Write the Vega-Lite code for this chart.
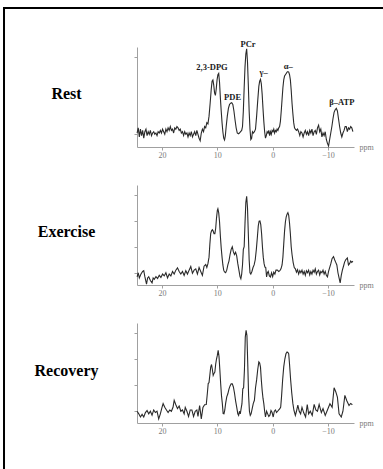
{
"$schema": "https://vega.github.io/schema/vega-lite/v6.json",
"padding": {"left": 3, "top": 7, "right": 0, "bottom": 0},
"background": "white",
"config": {
  "view": {"stroke": null},
  "font": "Liberation Serif",
  "axis": {"grid": false, "domainColor": "#a0a0a0", "tickColor": "#a0a0a0", "domainWidth": 1, "tickWidth": 1, "tickSize": 3, "labelColor": "#7a7a7a", "labelFont": "Liberation Serif", "labelFontSize": 8, "titleFont": "Liberation Serif"}
},
"datasets": {
  "rest": [
{"ppm":24.5,"v":0.05},{"ppm":24.3,"v":0.25},{"ppm":24.1,"v":-0.1},{"ppm":23.9,"v":0.2},{"ppm":23.7,"v":-0.05},{"ppm":23.5,"v":0.15},{"ppm":23.3,"v":-0.15},{"ppm":23.1,"v":0.1},{"ppm":22.9,"v":0.2},{"ppm":22.7,"v":-0.05},{"ppm":22.5,"v":0.1},{"ppm":22.3,"v":0.0},{"ppm":22.1,"v":0.15},{"ppm":21.9,"v":-0.05},{"ppm":21.7,"v":0.05},{"ppm":21.5,"v":0.1},{"ppm":21.3,"v":0.0},{"ppm":21.1,"v":0.05},{"ppm":20.9,"v":-0.05},{"ppm":20.7,"v":0.1},{"ppm":20.5,"v":0.05},{"ppm":20.3,"v":0.15},{"ppm":20.1,"v":0.05},{"ppm":19.9,"v":0.2},{"ppm":19.7,"v":0.1},{"ppm":19.5,"v":0.0},{"ppm":19.3,"v":0.2},{"ppm":19.1,"v":0.1},{"ppm":18.9,"v":0.25},{"ppm":18.7,"v":0.15},{"ppm":18.5,"v":0.3},{"ppm":18.3,"v":0.15},{"ppm":18.1,"v":0.2},{"ppm":17.9,"v":0.05},{"ppm":17.7,"v":0.25},{"ppm":17.5,"v":0.2},{"ppm":17.3,"v":0.3},{"ppm":17.1,"v":0.25},{"ppm":16.9,"v":0.15},{"ppm":16.7,"v":0.2},{"ppm":16.5,"v":0.05},{"ppm":16.3,"v":0.1},{"ppm":16.1,"v":-0.05},{"ppm":15.9,"v":0.1},{"ppm":15.7,"v":0.0},{"ppm":15.5,"v":0.05},{"ppm":15.3,"v":-0.1},{"ppm":15.1,"v":0.05},{"ppm":14.9,"v":-0.05},{"ppm":14.7,"v":0.1},{"ppm":14.5,"v":-0.1},{"ppm":14.3,"v":0.0},{"ppm":14.1,"v":0.1},{"ppm":13.9,"v":-0.05},{"ppm":13.7,"v":0.15},{"ppm":13.5,"v":0.0},{"ppm":13.3,"v":-0.15},{"ppm":13.1,"v":-0.25},{"ppm":12.9,"v":0.05},{"ppm":12.7,"v":0.2},{"ppm":12.5,"v":0.1},{"ppm":12.3,"v":0.3},{"ppm":12.1,"v":0.25},{"ppm":11.9,"v":0.45},{"ppm":11.7,"v":0.4},{"ppm":11.5,"v":0.7},{"ppm":11.3,"v":1.2},{"ppm":11.1,"v":1.75},{"ppm":10.95,"v":2.05},{"ppm":10.8,"v":2.1},{"ppm":10.65,"v":1.9},{"ppm":10.5,"v":1.6},{"ppm":10.35,"v":1.5},{"ppm":10.2,"v":1.75},{"ppm":10.05,"v":2.1},{"ppm":9.9,"v":2.3},{"ppm":9.75,"v":2.35},{"ppm":9.6,"v":2.0},{"ppm":9.45,"v":1.4},{"ppm":9.3,"v":0.9},{"ppm":9.15,"v":0.45},{"ppm":9.0,"v":0.1},{"ppm":8.85,"v":-0.15},{"ppm":8.7,"v":-0.22},{"ppm":8.55,"v":-0.05},{"ppm":8.4,"v":0.3},{"ppm":8.2,"v":0.7},{"ppm":8.0,"v":1.0},{"ppm":7.8,"v":1.15},{"ppm":7.6,"v":1.2},{"ppm":7.4,"v":1.22},{"ppm":7.2,"v":1.15},{"ppm":7.0,"v":0.9},{"ppm":6.8,"v":0.55},{"ppm":6.6,"v":0.25},{"ppm":6.4,"v":0.05},{"ppm":6.2,"v":0.02},{"ppm":6.0,"v":0.05},{"ppm":5.8,"v":0.1},{"ppm":5.6,"v":0.15},{"ppm":5.45,"v":0.3},{"ppm":5.3,"v":0.9},{"ppm":5.15,"v":1.8},{"ppm":5.0,"v":2.6},{"ppm":4.85,"v":3.1},{"ppm":4.7,"v":3.3},{"ppm":4.55,"v":2.8},{"ppm":4.4,"v":1.9},{"ppm":4.25,"v":0.9},{"ppm":4.1,"v":0.2},{"ppm":3.95,"v":-0.2},{"ppm":3.8,"v":-0.15},{"ppm":3.65,"v":0.1},{"ppm":3.5,"v":0.05},{"ppm":3.3,"v":0.1},{"ppm":3.1,"v":0.2},{"ppm":2.9,"v":0.7},{"ppm":2.7,"v":1.3},{"ppm":2.5,"v":1.85},{"ppm":2.35,"v":2.05},{"ppm":2.2,"v":2.12},{"ppm":2.05,"v":1.95},{"ppm":1.9,"v":1.55},{"ppm":1.75,"v":1.0},{"ppm":1.6,"v":0.5},{"ppm":1.45,"v":0.1},{"ppm":1.3,"v":-0.15},{"ppm":1.15,"v":-0.05},{"ppm":1.0,"v":0.1},{"ppm":0.85,"v":0.05},{"ppm":0.7,"v":0.15},{"ppm":0.55,"v":-0.05},{"ppm":0.4,"v":0.1},{"ppm":0.25,"v":0.0},{"ppm":0.1,"v":0.15},{"ppm":-0.05,"v":0.1},{"ppm":-0.2,"v":0.2},{"ppm":-0.35,"v":0.05},{"ppm":-0.5,"v":0.15},{"ppm":-0.65,"v":0.1},{"ppm":-0.8,"v":0.2},{"ppm":-0.95,"v":0.15},{"ppm":-1.1,"v":0.25},{"ppm":-1.25,"v":0.3},{"ppm":-1.4,"v":0.5},{"ppm":-1.55,"v":0.9},{"ppm":-1.7,"v":1.35},{"ppm":-1.85,"v":1.8},{"ppm":-2.0,"v":2.1},{"ppm":-2.15,"v":2.25},{"ppm":-2.3,"v":2.3},{"ppm":-2.45,"v":2.35},{"ppm":-2.6,"v":2.4},{"ppm":-2.75,"v":2.42},{"ppm":-2.9,"v":2.4},{"ppm":-3.05,"v":2.3},{"ppm":-3.2,"v":2.1},{"ppm":-3.35,"v":1.7},{"ppm":-3.5,"v":1.2},{"ppm":-3.65,"v":0.8},{"ppm":-3.8,"v":0.45},{"ppm":-3.95,"v":0.25},{"ppm":-4.1,"v":0.2},{"ppm":-4.3,"v":0.15},{"ppm":-4.5,"v":0.2},{"ppm":-4.7,"v":0.1},{"ppm":-4.9,"v":-0.05},{"ppm":-5.1,"v":0.1},{"ppm":-5.3,"v":0.05},{"ppm":-5.5,"v":-0.1},{"ppm":-5.7,"v":0.05},{"ppm":-5.9,"v":0.15},{"ppm":-6.1,"v":0.0},{"ppm":-6.3,"v":0.1},{"ppm":-6.5,"v":-0.05},{"ppm":-6.7,"v":0.15},{"ppm":-6.9,"v":0.05},{"ppm":-7.1,"v":0.2},{"ppm":-7.3,"v":-0.05},{"ppm":-7.5,"v":0.1},{"ppm":-7.7,"v":0.15},{"ppm":-7.9,"v":0.0},{"ppm":-8.1,"v":0.25},{"ppm":-8.3,"v":0.35},{"ppm":-8.5,"v":0.1},{"ppm":-8.7,"v":0.2},{"ppm":-8.9,"v":-0.1},{"ppm":-9.1,"v":0.05},{"ppm":-9.3,"v":-0.05},{"ppm":-9.5,"v":0.1},{"ppm":-9.7,"v":-0.2},{"ppm":-9.9,"v":-0.35},{"ppm":-10.1,"v":-0.45},{"ppm":-10.3,"v":-0.2},{"ppm":-10.5,"v":0.05},{"ppm":-10.7,"v":0.3},{"ppm":-10.9,"v":0.6},{"ppm":-11.1,"v":0.85},{"ppm":-11.3,"v":0.95},{"ppm":-11.5,"v":1.0},{"ppm":-11.7,"v":0.9},{"ppm":-11.9,"v":0.6},{"ppm":-12.1,"v":0.3},{"ppm":-12.3,"v":0.05},{"ppm":-12.5,"v":-0.1},{"ppm":-12.7,"v":0.05},{"ppm":-12.9,"v":0.15},{"ppm":-13.1,"v":0.3},{"ppm":-13.3,"v":0.3},{"ppm":-13.5,"v":0.1},{"ppm":-13.7,"v":0.25},{"ppm":-13.9,"v":0.2},{"ppm":-14.1,"v":0.3},{"ppm":-14.3,"v":0.25},{"ppm":-14.5,"v":0.1}
  ],
  "exercise": [
{"ppm":24.5,"v":-0.16},{"ppm":24.3,"v":0.0},{"ppm":24.1,"v":-0.2},{"ppm":23.8,"v":-0.05},{"ppm":23.5,"v":0.05},{"ppm":23.3,"v":0.08},{"ppm":23.1,"v":-0.15},{"ppm":22.8,"v":-0.44},{"ppm":22.6,"v":-0.2},{"ppm":22.4,"v":-0.15},{"ppm":22.1,"v":-0.3},{"ppm":21.8,"v":-0.39},{"ppm":21.6,"v":-0.2},{"ppm":21.4,"v":-0.25},{"ppm":21.1,"v":-0.15},{"ppm":20.8,"v":-0.22},{"ppm":20.5,"v":-0.1},{"ppm":20.2,"v":-0.18},{"ppm":19.9,"v":-0.05},{"ppm":19.6,"v":-0.12},{"ppm":19.3,"v":0.0},{"ppm":19.0,"v":-0.2},{"ppm":18.7,"v":-0.05},{"ppm":18.4,"v":-0.12},{"ppm":18.1,"v":0.05},{"ppm":17.8,"v":-0.05},{"ppm":17.5,"v":0.1},{"ppm":17.2,"v":0.19},{"ppm":16.9,"v":0.05},{"ppm":16.6,"v":-0.05},{"ppm":16.3,"v":0.05},{"ppm":16.0,"v":-0.1},{"ppm":15.7,"v":0.08},{"ppm":15.4,"v":-0.05},{"ppm":15.1,"v":0.1},{"ppm":14.8,"v":0.24},{"ppm":14.5,"v":-0.02},{"ppm":14.2,"v":0.1},{"ppm":13.9,"v":0.15},{"ppm":13.6,"v":-0.05},{"ppm":13.3,"v":0.2},{"ppm":13.0,"v":0.05},{"ppm":12.7,"v":-0.1},{"ppm":12.4,"v":0.25},{"ppm":12.1,"v":0.32},{"ppm":11.9,"v":0.2},{"ppm":11.7,"v":0.35},{"ppm":11.5,"v":0.6},{"ppm":11.35,"v":1.1},{"ppm":11.2,"v":1.5},{"ppm":11.05,"v":1.61},{"ppm":10.9,"v":1.65},{"ppm":10.75,"v":1.6},{"ppm":10.6,"v":1.5},{"ppm":10.45,"v":1.5},{"ppm":10.3,"v":1.7},{"ppm":10.15,"v":2.1},{"ppm":10.0,"v":2.4},{"ppm":9.9,"v":2.46},{"ppm":9.75,"v":2.3},{"ppm":9.6,"v":1.95},{"ppm":9.45,"v":1.4},{"ppm":9.3,"v":0.95},{"ppm":9.15,"v":0.6},{"ppm":9.0,"v":0.3},{"ppm":8.85,"v":0.1},{"ppm":8.7,"v":0.03},{"ppm":8.5,"v":0.0},{"ppm":8.3,"v":0.1},{"ppm":8.1,"v":0.3},{"ppm":7.9,"v":0.45},{"ppm":7.7,"v":0.7},{"ppm":7.5,"v":0.9},{"ppm":7.3,"v":1.0},{"ppm":7.1,"v":0.8},{"ppm":6.9,"v":0.7},{"ppm":6.7,"v":0.79},{"ppm":6.5,"v":0.65},{"ppm":6.3,"v":0.35},{"ppm":6.1,"v":0.1},{"ppm":5.9,"v":-0.15},{"ppm":5.75,"v":-0.23},{"ppm":5.6,"v":-0.05},{"ppm":5.45,"v":0.3},{"ppm":5.3,"v":0.9},{"ppm":5.15,"v":1.0},{"ppm":5.0,"v":1.9},{"ppm":4.85,"v":2.7},{"ppm":4.7,"v":2.94},{"ppm":4.55,"v":2.5},{"ppm":4.4,"v":1.5},{"ppm":4.25,"v":0.5},{"ppm":4.1,"v":0.0},{"ppm":3.95,"v":-0.05},{"ppm":3.75,"v":0.05},{"ppm":3.55,"v":0.2},{"ppm":3.35,"v":0.3},{"ppm":3.15,"v":0.5},{"ppm":2.95,"v":0.9},{"ppm":2.75,"v":1.4},{"ppm":2.6,"v":1.8},{"ppm":2.45,"v":1.98},{"ppm":2.3,"v":1.99},{"ppm":2.15,"v":1.85},{"ppm":2.0,"v":1.5},{"ppm":1.85,"v":1.0},{"ppm":1.7,"v":0.6},{"ppm":1.55,"v":0.35},{"ppm":1.4,"v":0.22},{"ppm":1.25,"v":0.2},{"ppm":1.1,"v":-0.16},{"ppm":0.95,"v":0.0},{"ppm":0.8,"v":0.05},{"ppm":0.6,"v":-0.12},{"ppm":0.4,"v":-0.16},{"ppm":0.2,"v":0.0},{"ppm":0.0,"v":-0.15},{"ppm":-0.2,"v":0.02},{"ppm":-0.4,"v":-0.05},{"ppm":-0.6,"v":0.1},{"ppm":-0.85,"v":0.1},{"ppm":-1.1,"v":0.05},{"ppm":-1.3,"v":0.08},{"ppm":-1.5,"v":0.15},{"ppm":-1.7,"v":0.3},{"ppm":-1.85,"v":0.6},{"ppm":-2.0,"v":1.1},{"ppm":-2.15,"v":1.6},{"ppm":-2.3,"v":1.95},{"ppm":-2.45,"v":2.15},{"ppm":-2.6,"v":2.25},{"ppm":-2.75,"v":2.31},{"ppm":-2.9,"v":2.2},{"ppm":-3.05,"v":1.9},{"ppm":-3.2,"v":1.5},{"ppm":-3.35,"v":1.0},{"ppm":-3.5,"v":0.7},{"ppm":-3.7,"v":0.4},{"ppm":-3.9,"v":0.2},{"ppm":-4.1,"v":0.15},{"ppm":-4.3,"v":0.02},{"ppm":-4.5,"v":0.12},{"ppm":-4.7,"v":-0.05},{"ppm":-4.9,"v":0.08},{"ppm":-5.1,"v":0.0},{"ppm":-5.3,"v":0.1},{"ppm":-5.5,"v":-0.05},{"ppm":-5.7,"v":0.05},{"ppm":-5.9,"v":-0.1},{"ppm":-6.1,"v":0.08},{"ppm":-6.3,"v":0.0},{"ppm":-6.5,"v":0.1},{"ppm":-6.7,"v":-0.08},{"ppm":-6.9,"v":0.05},{"ppm":-7.1,"v":-0.05},{"ppm":-7.3,"v":0.1},{"ppm":-7.5,"v":0.02},{"ppm":-7.7,"v":0.15},{"ppm":-7.9,"v":-0.05},{"ppm":-8.1,"v":0.05},{"ppm":-8.3,"v":0.1},{"ppm":-8.5,"v":-0.08},{"ppm":-8.7,"v":0.05},{"ppm":-8.9,"v":0.0},{"ppm":-9.1,"v":0.1},{"ppm":-9.3,"v":-0.05},{"ppm":-9.5,"v":0.05},{"ppm":-9.7,"v":-0.1},{"ppm":-9.9,"v":-0.16},{"ppm":-10.1,"v":0.05},{"ppm":-10.3,"v":0.2},{"ppm":-10.5,"v":0.34},{"ppm":-10.75,"v":0.55},{"ppm":-11.0,"v":0.62},{"ppm":-11.2,"v":0.5},{"ppm":-11.4,"v":0.4},{"ppm":-11.6,"v":0.3},{"ppm":-11.8,"v":0.0},{"ppm":-12.0,"v":-0.2},{"ppm":-12.2,"v":-0.39},{"ppm":-12.4,"v":-0.1},{"ppm":-12.6,"v":0.1},{"ppm":-12.8,"v":0.25},{"ppm":-13.0,"v":0.41},{"ppm":-13.2,"v":0.5},{"ppm":-13.5,"v":0.57},{"ppm":-13.7,"v":0.3},{"ppm":-13.9,"v":0.35},{"ppm":-14.1,"v":0.45},{"ppm":-14.3,"v":0.4},{"ppm":-14.5,"v":0.45}
  ],
  "recovery": [
{"ppm":24.5,"v":0.0},{"ppm":24.2,"v":-0.1},{"ppm":23.9,"v":-0.22},{"ppm":23.6,"v":-0.12},{"ppm":23.3,"v":-0.22},{"ppm":23.0,"v":-0.05},{"ppm":22.7,"v":0.03},{"ppm":22.4,"v":-0.1},{"ppm":22.1,"v":0.0},{"ppm":21.8,"v":-0.15},{"ppm":21.5,"v":0.05},{"ppm":21.2,"v":-0.05},{"ppm":20.9,"v":0.0},{"ppm":20.6,"v":-0.29},{"ppm":20.3,"v":-0.1},{"ppm":20.0,"v":0.15},{"ppm":19.8,"v":0.29},{"ppm":19.5,"v":0.15},{"ppm":19.2,"v":0.05},{"ppm":18.9,"v":-0.05},{"ppm":18.6,"v":0.05},{"ppm":18.3,"v":0.0},{"ppm":18.0,"v":0.16},{"ppm":17.8,"v":0.42},{"ppm":17.5,"v":0.25},{"ppm":17.2,"v":0.1},{"ppm":16.9,"v":0.2},{"ppm":16.6,"v":0.0},{"ppm":16.3,"v":0.05},{"ppm":16.0,"v":-0.1},{"ppm":15.8,"v":0.15},{"ppm":15.5,"v":0.0},{"ppm":15.2,"v":-0.2},{"ppm":14.9,"v":0.05},{"ppm":14.6,"v":0.05},{"ppm":14.3,"v":-0.2},{"ppm":14.0,"v":0.0},{"ppm":13.7,"v":0.05},{"ppm":13.5,"v":-0.2},{"ppm":13.2,"v":0.22},{"ppm":12.9,"v":-0.29},{"ppm":12.6,"v":0.15},{"ppm":12.3,"v":0.25},{"ppm":12.0,"v":0.26},{"ppm":11.8,"v":0.7},{"ppm":11.65,"v":1.06},{"ppm":11.5,"v":1.1},{"ppm":11.35,"v":1.4},{"ppm":11.2,"v":1.69},{"ppm":11.05,"v":1.79},{"ppm":10.9,"v":1.6},{"ppm":10.75,"v":1.37},{"ppm":10.6,"v":1.45},{"ppm":10.45,"v":1.5},{"ppm":10.3,"v":1.8},{"ppm":10.15,"v":2.0},{"ppm":10.0,"v":2.14},{"ppm":9.85,"v":2.33},{"ppm":9.7,"v":2.1},{"ppm":9.55,"v":1.6},{"ppm":9.4,"v":1.06},{"ppm":9.25,"v":0.6},{"ppm":9.1,"v":0.3},{"ppm":8.95,"v":-0.09},{"ppm":8.8,"v":-0.1},{"ppm":8.65,"v":0.05},{"ppm":8.5,"v":0.3},{"ppm":8.3,"v":0.55},{"ppm":8.1,"v":0.67},{"ppm":7.9,"v":0.85},{"ppm":7.7,"v":0.97},{"ppm":7.5,"v":1.05},{"ppm":7.3,"v":1.05},{"ppm":7.1,"v":0.93},{"ppm":6.9,"v":0.7},{"ppm":6.7,"v":0.4},{"ppm":6.5,"v":0.16},{"ppm":6.3,"v":-0.1},{"ppm":6.15,"v":-0.16},{"ppm":6.0,"v":0.0},{"ppm":5.85,"v":-0.1},{"ppm":5.7,"v":0.1},{"ppm":5.55,"v":0.29},{"ppm":5.4,"v":0.86},{"ppm":5.25,"v":0.9},{"ppm":5.1,"v":1.6},{"ppm":4.95,"v":2.84},{"ppm":4.8,"v":3.1},{"ppm":4.65,"v":2.9},{"ppm":4.5,"v":1.8},{"ppm":4.35,"v":0.6},{"ppm":4.2,"v":0.0},{"ppm":4.05,"v":-0.16},{"ppm":3.9,"v":-0.1},{"ppm":3.7,"v":0.1},{"ppm":3.5,"v":0.3},{"ppm":3.3,"v":0.42},{"ppm":3.1,"v":0.9},{"ppm":2.9,"v":1.2},{"ppm":2.7,"v":1.6},{"ppm":2.5,"v":1.89},{"ppm":2.35,"v":1.85},{"ppm":2.2,"v":1.69},{"ppm":2.05,"v":1.2},{"ppm":1.9,"v":0.8},{"ppm":1.75,"v":0.5},{"ppm":1.6,"v":0.29},{"ppm":1.45,"v":0.0},{"ppm":1.3,"v":-0.22},{"ppm":1.1,"v":0.0},{"ppm":0.9,"v":-0.1},{"ppm":0.7,"v":-0.2},{"ppm":0.5,"v":-0.15},{"ppm":0.3,"v":0.03},{"ppm":0.1,"v":-0.05},{"ppm":-0.1,"v":-0.22},{"ppm":-0.3,"v":0.0},{"ppm":-0.5,"v":0.05},{"ppm":-0.7,"v":-0.05},{"ppm":-0.9,"v":0.0},{"ppm":-1.1,"v":0.05},{"ppm":-1.3,"v":0.1},{"ppm":-1.45,"v":0.16},{"ppm":-1.6,"v":0.55},{"ppm":-1.8,"v":1.2},{"ppm":-2.0,"v":1.7},{"ppm":-2.2,"v":2.0},{"ppm":-2.4,"v":2.2},{"ppm":-2.6,"v":2.27},{"ppm":-2.75,"v":2.25},{"ppm":-2.9,"v":2.2},{"ppm":-3.05,"v":1.8},{"ppm":-3.25,"v":1.2},{"ppm":-3.45,"v":0.7},{"ppm":-3.65,"v":0.3},{"ppm":-3.85,"v":0.03},{"ppm":-4.1,"v":-0.16},{"ppm":-4.3,"v":0.0},{"ppm":-4.55,"v":0.23},{"ppm":-4.8,"v":0.0},{"ppm":-5.05,"v":-0.1},{"ppm":-5.3,"v":0.15},{"ppm":-5.6,"v":-0.05},{"ppm":-5.95,"v":-0.22},{"ppm":-6.25,"v":0.26},{"ppm":-6.5,"v":-0.1},{"ppm":-6.8,"v":0.0},{"ppm":-7.15,"v":-0.16},{"ppm":-7.5,"v":0.26},{"ppm":-7.8,"v":0.05},{"ppm":-8.1,"v":0.0},{"ppm":-8.4,"v":0.26},{"ppm":-8.8,"v":-0.05},{"ppm":-9.1,"v":0.1},{"ppm":-9.5,"v":-0.16},{"ppm":-9.9,"v":0.05},{"ppm":-10.35,"v":0.29},{"ppm":-10.75,"v":0.15},{"ppm":-11.1,"v":0.9},{"ppm":-11.4,"v":0.75},{"ppm":-11.7,"v":0.54},{"ppm":-12.0,"v":-0.1},{"ppm":-12.4,"v":-0.22},{"ppm":-12.7,"v":0.0},{"ppm":-13.05,"v":0.61},{"ppm":-13.4,"v":0.4},{"ppm":-13.8,"v":0.22},{"ppm":-14.1,"v":0.3},{"ppm":-14.4,"v":0.25}
  ],
  "peaks": [
{"ppm":10.96,"v":2.58,"t":"2,3-DPG"},{"ppm":7.25,"v":1.43,"t":"PDE"},{"ppm":4.45,"v":3.49,"t":"PCr"},{"ppm":1.65,"v":2.4,"t":"γ–"},{"ppm":-2.8,"v":2.64,"t":"α–"},{"ppm":-12.5,"v":1.26,"t":"β–ATP"}
  ]
},
"spacing": 0,
"bounds": "flush",
"vconcat": [
  {"width": 378, "height": 0.01, "data": {"values": []}, "mark": "rule", "encoding": {}, "view": {"stroke": "black", "strokeWidth": 2}},
  {
    "spacing": 132,
    "bounds": "flush",
    "hconcat": [
      {"width": 0.01, "height": 459.99, "data": {"values": []}, "mark": "rule", "encoding": {}, "view": {"stroke": "black", "strokeWidth": 2}},
      {
        "spacing": 37,
        "bounds": "flush",
        "vconcat": [
          {"width": 0.01, "height": 0.01, "data": {"values": []}, "mark": "rule", "encoding": {}},
          {
            "spacing": 38,
            "bounds": "flush",
            "vconcat": [
              {
                "width": 217, "height": 100,
                "layer": [
                  {
                    "data": {"name": "rest"},
                    "mark": {"type": "line", "color": "#2a2a2a", "strokeWidth": 1.1},
                    "encoding": {
                      "x": {"field": "ppm", "type": "quantitative", "scale": {"domain": [-14.7, 24.52], "reverse": true, "nice": false, "zero": false},
                            "axis": {"values": [20, 10, 0, -10], "labelPadding": 1, "title": "ppm", "titleFontSize": 8, "titleFontWeight": "normal", "titleColor": "#7a7a7a", "titleX": 222, "titleY": 0, "titleAlign": "left", "titleBaseline": "middle", "titleAnchor": null}},
                      "y": {"field": "v", "type": "quantitative", "scale": {"domain": [-0.49, 3.37], "nice": false, "zero": false},
                            "axis": {"values": [0, 1, 2, 3], "labels": false, "title": "Rest", "titleFontSize": 16, "titleFontWeight": "bold", "titleColor": "black", "titleAngle": 0, "titleAlign": "center", "titleBaseline": "middle", "titleX": -71, "titleY": 46}}
                    }
                  },
                  {
                    "data": {"name": "peaks"},
                    "mark": {"type": "text", "font": "Liberation Serif", "fontWeight": "bold", "fontSize": 8.5, "color": "#1a1a1a", "baseline": "middle", "align": "center"},
                    "encoding": {
                      "x": {"field": "ppm", "type": "quantitative"},
                      "y": {"field": "v", "type": "quantitative"},
                      "text": {"field": "t"}
                    }
                  }
                ]
              },
              {
                "width": 217, "height": 100,
                "data": {"name": "exercise"},
                "mark": {"type": "line", "color": "#2a2a2a", "strokeWidth": 1.1},
                "encoding": {
                  "x": {"field": "ppm", "type": "quantitative", "scale": {"domain": [-14.7, 24.52], "reverse": true, "nice": false, "zero": false},
                        "axis": {"values": [20, 10, 0, -10], "labelPadding": 1, "title": "ppm", "titleFontSize": 8, "titleFontWeight": "normal", "titleColor": "#7a7a7a", "titleX": 222, "titleY": 0, "titleAlign": "left", "titleBaseline": "middle", "titleAnchor": null}},
                  "y": {"field": "v", "type": "quantitative", "scale": {"domain": [-0.47, 3.37], "nice": false, "zero": false},
                        "axis": {"values": [0, 1, 2, 3], "labels": false, "title": "Exercise", "titleFontSize": 16, "titleFontWeight": "bold", "titleColor": "black", "titleAngle": 0, "titleAlign": "center", "titleBaseline": "middle", "titleX": -71, "titleY": 46}}
                }
              },
              {
                "width": 217, "height": 100,
                "data": {"name": "recovery"},
                "mark": {"type": "line", "color": "#2a2a2a", "strokeWidth": 1.1},
                "encoding": {
                  "x": {"field": "ppm", "type": "quantitative", "scale": {"domain": [-14.7, 24.52], "reverse": true, "nice": false, "zero": false},
                        "axis": {"values": [20, 10, 0, -10], "labelPadding": 1, "title": "ppm", "titleFontSize": 8, "titleFontWeight": "normal", "titleColor": "#7a7a7a", "titleX": 222, "titleY": 0, "titleAlign": "left", "titleBaseline": "middle", "titleAnchor": null}},
                  "y": {"field": "v", "type": "quantitative", "scale": {"domain": [-0.45, 3.38], "nice": false, "zero": false},
                        "axis": {"values": [0, 1, 2, 3], "labels": false, "title": "Recovery", "titleFontSize": 16, "titleFontWeight": "bold", "titleColor": "black", "titleAngle": 0, "titleAlign": "center", "titleBaseline": "middle", "titleX": -71, "titleY": 47}}
                }
              }
            ]
          }
        ]
      }
    ]
  }
]
}
